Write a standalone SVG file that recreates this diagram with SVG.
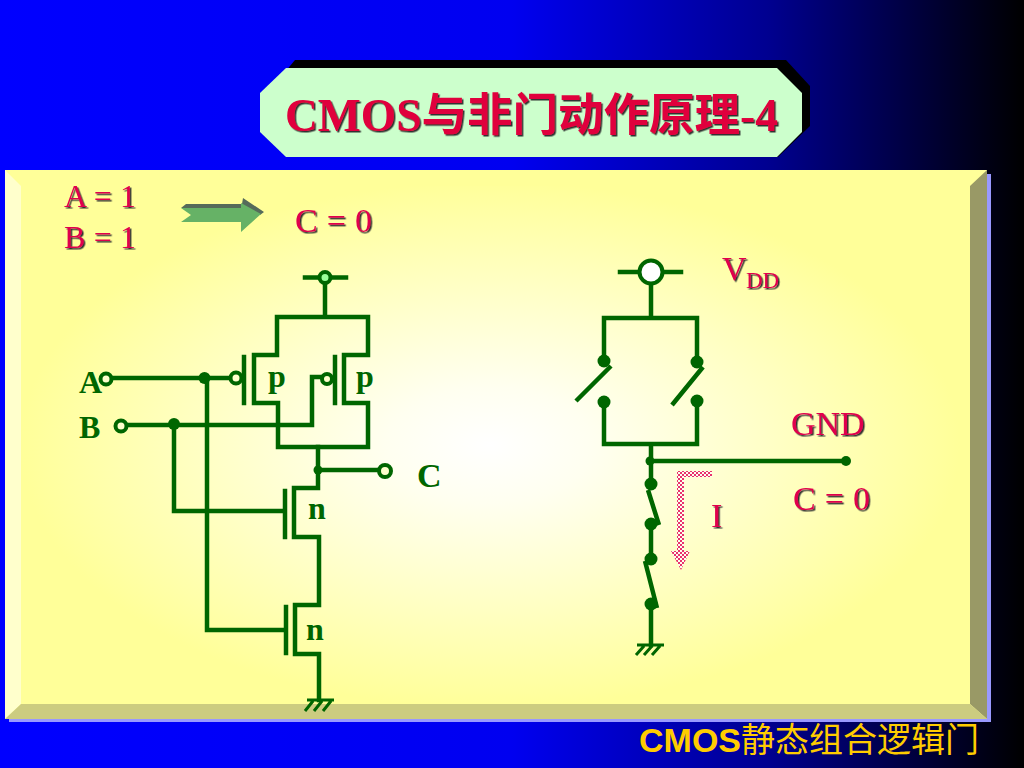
<svg xmlns="http://www.w3.org/2000/svg" width="1024" height="768" viewBox="0 0 1024 768">
<style>
.w{fill:none;stroke:#006600;stroke-width:4.500;stroke-linejoin:miter;stroke-linecap:square}
.s{fill:none;stroke:#006600;stroke-width:4.500}
.d{fill:#006600}
.o{fill:#FFFFCC;stroke:#006600;stroke-width:4}
.r{font-family:"Liberation Serif","Noto Sans CJK SC",serif;font-size:34px;fill:#E0004D;filter:url(#ds)}
.g{font-family:"Liberation Serif",serif;font-size:32px;font-weight:bold;fill:#006600}
</style>
<defs>
<linearGradient id="bg" x1="0" x2="1" y1="0" y2="0"><stop offset="0" stop-color="#0000FF"/><stop offset=".5" stop-color="#0000F0"/><stop offset=".75" stop-color="#000090"/><stop offset="1" stop-color="#000000"/></linearGradient>
<radialGradient id="pn" gradientUnits="userSpaceOnUse" cx="490" cy="445" r="470" gradientTransform="translate(490 445) scale(1 .56) translate(-490 -445)"><stop offset="0" stop-color="#FFFFFF"/><stop offset=".22" stop-color="#FFFFF0"/><stop offset="1" stop-color="#FFFF99"/></radialGradient>
<filter id="ds" x="-10%" y="-10%" width="125%" height="130%"><feDropShadow dx="1.5" dy="1.5" stdDeviation=".3" flood-color="#333333"/></filter>
<pattern id="ck" width="4" height="4" patternUnits="userSpaceOnUse"><rect width="4" height="4" fill="#FFFFEE"/><rect width="2" height="2" fill="#E8336D"/><rect x="2" y="2" width="2" height="2" fill="#E8336D"/></pattern>
</defs>
<rect id="background" width="1024" height="768" fill="url(#bg)"/>
<g id="title">
<polygon points="295,60 786,60 810,86 810,126 778,157 290,157 270,90" fill="#000000"/>
<polygon points="286,68 777,68 802,93 802,132 777,157 286,157 260,132 260,93" fill="#CCFFCC"/>
<text x="285" y="131" font-family="'Liberation Serif','Noto Sans CJK SC',serif" font-size="45.500" font-weight="bold" fill="#E0003C" filter="url(#ds)">CMOS与非门动作原理-4</text>
</g>
<g id="panel">
<rect x="9" y="174" width="982" height="548" fill="#9999FF"/>
<rect x="5" y="170" width="982" height="549" fill="#FFFF99"/>
<polygon points="5,170 21,186 21,704 5,719" fill="#FFFFCC"/>
<polygon points="987,170 987,719 970,704 970,186" fill="#999966"/>
<polygon points="5,719 987,719 970,704 21,704" fill="#CCCC80"/>
<rect x="21" y="186" width="949" height="518" fill="url(#pn)"/>
</g>
<g id="state-labels">
<text class="r" x="64" y="207" style="font-size:32px" textLength="72">A = 1</text>
<text class="r" x="64" y="248" style="font-size:32px" textLength="72">B = 1</text>
<text class="r" x="295" y="232" textLength="77">C = 0</text>
<polygon points="181,208 186,204 242,204 243,198 264,212 260,215 241,208" fill="#556B5A"/>
<polygon points="181,208 241,208 241,203 261,214 241,232 241,222 181,222 191,215" fill="#66B266"/>
</g>
<g id="connectors">
<path class="w" d="M325 283V317M277 317H368M277 317V355H254V403H278V447H368V403H344V355H368V317"/>
<path class="w" d="M112 378H230M207 378V630H283M127 425H312V377H322M174 424V511H283"/>
<path class="w" d="M318 447V488H294V537H319V605H295V654H319V700"/>
<path class="w" d="M318 470H379"/>
<path class="w" d="M651 284V318M604 361V318H697V362M604 402V444H697V402M651 444V484M651 524V559M651 604V645M650 461H846"/>
</g>
<g id="vdd-left"><path class="w" d="M305 277.500H346"/><circle cx="325" cy="277.500" r="5.500" fill="#99FF99" stroke="#006600" stroke-width="4"/></g>
<g id="pmos-a"><path class="w" d="M244 357V403"/><circle class="o" cx="236" cy="378" r="5.500"/><text class="g" x="268" y="387">p</text></g>
<g id="pmos-b"><path class="w" d="M335 357V403"/><circle class="o" cx="327" cy="379" r="5"/><text class="g" x="356" y="387">p</text></g>
<g id="nmos-b"><path class="w" d="M285 491V537"/><text class="g" x="308" y="519">n</text></g>
<g id="nmos-a"><path class="w" d="M286 607V653"/><text class="g" x="306" y="640">n</text></g>
<g id="input-a"><circle class="o" cx="106" cy="379" r="5.500"/><circle class="d" cx="204.500" cy="378" r="6"/><text class="g" x="79" y="393">A</text></g>
<g id="input-b"><circle class="o" cx="121" cy="426" r="5.500"/><circle class="d" cx="174" cy="424" r="6"/><text class="g" x="79" y="438">B</text></g>
<g id="output-c"><circle class="d" cx="318" cy="470" r="4.500"/><circle class="o" cx="385" cy="471" r="6"/><text class="g" x="417" y="487" style="font-size:34px">C</text></g>
<g id="ground-left"><path class="s" d="M307 700H334M313 701L305 711M322 701L314 711M331 701L323 711" style="stroke-width:3"/></g>
<g id="vdd-right"><path class="w" d="M620 272H681"/><circle cx="651" cy="272" r="11.500" fill="#FFFFFF" stroke="#006600" stroke-width="4"/>
<text class="r" x="722" y="280">V</text><text class="r" x="746" y="288" style="font-size:23px">DD</text></g>
<g id="switches-p"><circle class="d" cx="604" cy="361" r="6.500"/><path class="s" d="M611 366L576 401M703 367L672 405"/><circle class="d" cx="604" cy="402" r="6.500"/><circle class="d" cx="697" cy="362" r="6.500"/><circle class="d" cx="697" cy="401" r="6.500"/></g>
<g id="switches-n"><circle class="d" cx="650" cy="461" r="4.500"/><circle class="d" cx="846" cy="461" r="5"/><circle class="d" cx="651" cy="484" r="6.500"/><path class="s" d="M648 490L659 525M645 561L657 608"/><circle class="d" cx="651" cy="524" r="6.500"/><circle class="d" cx="651" cy="559" r="6.500"/><circle class="d" cx="651" cy="604" r="6.500"/></g>
<g id="ground-right"><path class="s" d="M637 645H664M644 646L636 655M652 646L644 655M660 646L652 655" style="stroke-width:3"/></g>
<g id="current"><polygon points="712,471 677,471 677,551 671,551 681,570 690,551 684,551 684,477 712,477" fill="url(#ck)"/><text class="r" x="711" y="527">I</text></g>
<g id="right-labels"><text class="r" x="791" y="435">GND</text><text class="r" x="793" y="510" textLength="77">C = 0</text></g>
<text id="footer" x="639" y="752" font-family="'Liberation Sans','Noto Sans CJK SC',sans-serif" font-size="34" fill="#FFCC00"><tspan font-weight="bold">CMOS</tspan>静态组合逻辑门</text>
</svg>
